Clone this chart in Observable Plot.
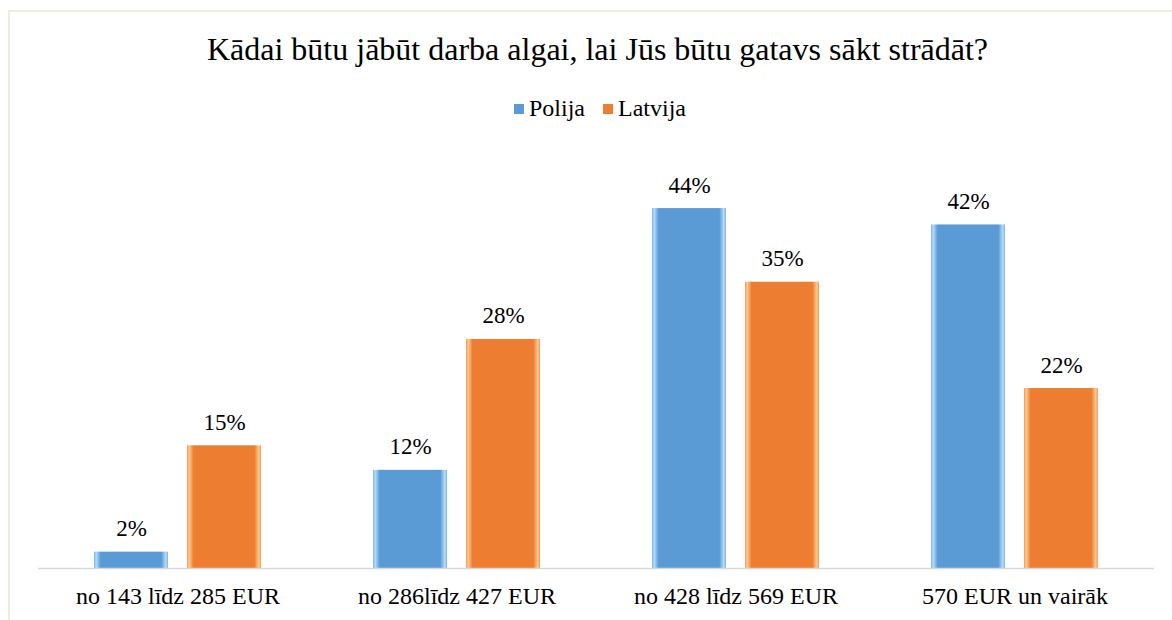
<!DOCTYPE html>
<html>
<head>
<meta charset="utf-8">
<script src="https://cdn.jsdelivr.net/npm/d3@7"></script>
<script src="https://cdn.jsdelivr.net/npm/@observablehq/plot@0.6"></script>
<style>
  html, body { margin: 0; padding: 0; background: #fff; overflow: hidden; }
  #wrap { position: relative; width: 1172px; height: 620px; font-family: "Liberation Serif", "Times New Roman", serif; color: #000; }
  #frame { position: absolute; left: 8px; top: 10px; width: 1180px; height: 620px; border-top: 2px solid #eeece1; border-left: 2px solid #eeece1; }
  #title { position: absolute; left: 0; top: 29px; width: 1149px; padding-left: 23px; text-align: center; font-size: 32px; line-height: 40px; }
  #legend { position: absolute; left: 0; top: 93px; width: 1156px; padding-left: 22px; text-align: center; font-size: 24px; line-height: 30px; }
  #legend span.item { display: inline-block; margin: 0 9px; }
  #legend i { display: inline-block; width: 10px; height: 10px; margin-right: 5px; vertical-align: 2px; }
  #chart { position: absolute; left: 0; top: 140px; }
</style>
</head>
<body>
<div id="wrap">
  <div id="frame"></div>
  <div id="title"></div>
  <div id="legend"></div>
  <div id="chart"></div>
</div>
<script>
const titleText = "Kādai būtu jābūt darba algai, lai Jūs būtu gatavs sākt strādāt?";
const categories = ["no 143 līdz 285 EUR", "no 286līdz 427 EUR", "no 428 līdz 569 EUR", "570 EUR un vairāk"];
const series = ["Polija", "Latvija"];
const polija = [2, 12, 44, 42];
const latvija = [15, 28, 35, 22];
const colors = ["#5b9bd5", "#ed7d31"];

const data = categories.flatMap((c, i) => [
  {cat: c, s: "Polija", v: polija[i]},
  {cat: c, s: "Latvija", v: latvija[i]}
]);

document.getElementById("title").textContent = titleText;
const legend = document.getElementById("legend");
series.forEach((s, i) => {
  const item = document.createElement("span");
  item.className = "item";
  const sw = document.createElement("i");
  sw.style.background = colors[i];
  item.appendChild(sw);
  item.appendChild(document.createTextNode(s));
  legend.appendChild(item);
});

const plot = Plot.plot({
  width: 1172,
  height: 480,
  marginLeft: 37,
  marginRight: 17,
  marginTop: 19,
  marginBottom: 52,
  style: {fontFamily: "Liberation Serif, Times New Roman, serif", fontSize: "24px", color: "#000", background: "transparent"},
  fx: {domain: categories, padding: 0, label: null, axis: "bottom", tickSize: 0, tickPadding: 18},
  x: {domain: series, axis: null, paddingInner: 0.2, paddingOuter: 0.6},
  y: {domain: [0, 50], axis: null},
  color: {domain: series, range: ["url(#gradBlue)", "url(#gradOrange)"]},
  marks: [
    Plot.barY(data, {fx: "cat", x: "s", y: "v", fill: "s"}),
    Plot.ruleY([0], {stroke: "#d9d9d9", strokeWidth: 1.5}),
    Plot.text(data, {fx: "cat", x: "s", y: "v", text: d => d.v + "%", lineAnchor: "bottom", dy: -16, fontSize: 23, fill: "#000"})
  ]
});

// gradient definitions for the bevelled bar look
const ns = "http://www.w3.org/2000/svg";
const defs = document.createElementNS(ns, "defs");
function grad(id, edge, light, base) {
  const g = document.createElementNS(ns, "linearGradient");
  g.setAttribute("id", id);
  g.setAttribute("x1", "0"); g.setAttribute("x2", "1"); g.setAttribute("y1", "0"); g.setAttribute("y2", "0");
  [[0, edge], [0.03, light], [0.09, base], [0.91, base], [0.97, light], [1, edge]].forEach(([o, c]) => {
    const st = document.createElementNS(ns, "stop");
    st.setAttribute("offset", o);
    st.setAttribute("stop-color", c);
    g.appendChild(st);
  });
  defs.appendChild(g);
}
grad("gradBlue", "#7db4e8", "#b3dcfb", "#5b9bd5");
grad("gradOrange", "#f29a5a", "#fcc98e", "#ed7d31");
plot.insertBefore(defs, plot.firstChild);

document.getElementById("chart").appendChild(plot);
</script>
</body>
</html>
